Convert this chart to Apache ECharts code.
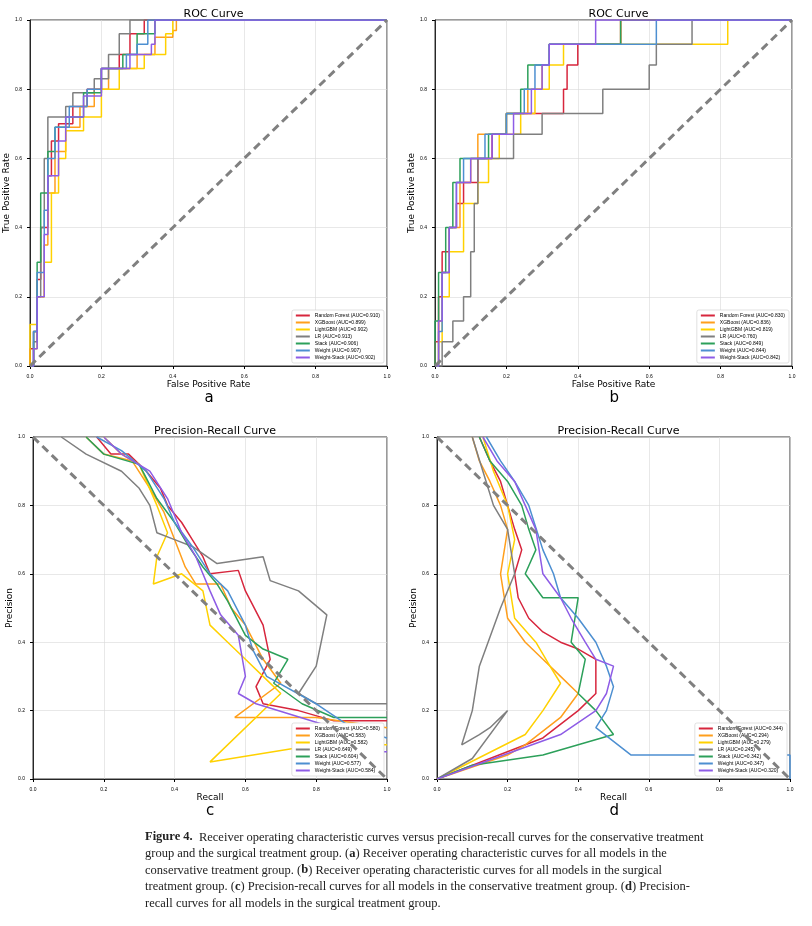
<!DOCTYPE html>
<html><head><meta charset="utf-8">
<script src="https://cdn.jsdelivr.net/npm/echarts@6/dist/echarts.min.js"></script>
<style>html,body{margin:0;background:#fff}#c{width:812px;height:926px}</style>
</head><body><div id="c"></div>
<script>
const models = ['Random Forest', 'XGBoost', 'LightGBM', 'LR', 'Stack', 'Weight', 'Weight-Stack'];
const colors = ['#d7263d', '#ff9f1c', '#ffd100', '#7f7f7f', '#2ca05a', '#4d8fd1', '#8e5ce6'];
const aucA = ['0.910', '0.899', '0.902', '0.913', '0.906', '0.907', '0.902'];
const aucB = ['0.830', '0.836', '0.819', '0.760', '0.849', '0.844', '0.842'];
const aucC = ['0.580', '0.583', '0.582', '0.649', '0.604', '0.577', '0.584'];
const aucD = ['0.344', '0.294', '0.279', '0.245', '0.342', '0.347', '0.320'];

// ROC a (fpr, tpr)
const rocA = [
  [[0,0],[0,0.05],[0.01,0.1],[0.02,0.25],[0.03,0.4],[0.05,0.55],[0.06,0.65],[0.08,0.7],[0.12,0.75],[0.16,0.8],[0.2,0.86],[0.25,0.9],[0.28,0.96],[0.32,1],[1,1]],
  [[0,0],[0.01,0.05],[0.02,0.2],[0.04,0.35],[0.05,0.5],[0.07,0.62],[0.1,0.69],[0.14,0.75],[0.18,0.8],[0.22,0.86],[0.3,0.9],[0.35,0.95],[0.4,0.97],[0.41,1],[1,1]],
  [[0,0],[0,0.12],[0.02,0.2],[0.04,0.3],[0.06,0.5],[0.08,0.6],[0.1,0.68],[0.15,0.72],[0.2,0.8],[0.25,0.86],[0.32,0.9],[0.38,0.96],[0.4,1],[1,1]],
  [[0,0],[0.01,0.07],[0.02,0.2],[0.03,0.4],[0.04,0.6],[0.05,0.72],[0.1,0.75],[0.12,0.79],[0.18,0.83],[0.22,0.9],[0.25,0.96],[0.28,1],[1,1]],
  [[0,0],[0.01,0.1],[0.02,0.3],[0.03,0.5],[0.05,0.62],[0.07,0.69],[0.1,0.72],[0.15,0.79],[0.2,0.86],[0.26,0.9],[0.3,0.96],[0.35,1],[1,1]],
  [[0,0],[0.01,0.1],[0.02,0.27],[0.04,0.45],[0.05,0.6],[0.07,0.69],[0.11,0.75],[0.16,0.8],[0.2,0.86],[0.27,0.9],[0.3,0.93],[0.33,1],[1,1]],
  [[0,0],[0.01,0.05],[0.02,0.2],[0.04,0.38],[0.05,0.55],[0.08,0.65],[0.1,0.72],[0.15,0.78],[0.2,0.86],[0.28,0.9],[0.34,0.93],[0.35,1],[1,1]]
];
// ROC b
const rocB = [
  [[0,0],[0,0.07],[0.01,0.2],[0.02,0.33],[0.04,0.4],[0.06,0.47],[0.08,0.53],[0.12,0.6],[0.16,0.67],[0.2,0.73],[0.3,0.73],[0.36,0.8],[0.37,0.87],[0.4,0.93],[0.52,1],[1,1]],
  [[0,0],[0.01,0.13],[0.02,0.27],[0.04,0.4],[0.07,0.53],[0.1,0.6],[0.12,0.67],[0.2,0.73],[0.26,0.8],[0.3,0.87],[0.32,0.93],[0.52,1],[1,1]],
  [[0,0],[0.01,0.07],[0.02,0.2],[0.04,0.33],[0.08,0.47],[0.12,0.53],[0.15,0.6],[0.18,0.67],[0.24,0.73],[0.28,0.8],[0.32,0.87],[0.36,0.93],[0.65,0.93],[0.82,1],[1,1]],
  [[0,0],[0.02,0.07],[0.05,0.13],[0.08,0.2],[0.1,0.33],[0.11,0.47],[0.12,0.6],[0.22,0.67],[0.3,0.73],[0.46,0.73],[0.47,0.8],[0.6,0.87],[0.62,0.93],[0.72,1],[1,1]],
  [[0,0],[0,0.13],[0.01,0.27],[0.03,0.4],[0.05,0.53],[0.07,0.6],[0.15,0.67],[0.2,0.73],[0.24,0.8],[0.26,0.87],[0.32,0.93],[0.52,1],[1,1]],
  [[0,0],[0.01,0.1],[0.02,0.27],[0.04,0.4],[0.06,0.53],[0.08,0.6],[0.14,0.67],[0.2,0.73],[0.25,0.8],[0.28,0.87],[0.32,0.93],[0.6,0.93],[0.62,1],[1,1]],
  [[0,0],[0.01,0.13],[0.02,0.27],[0.04,0.4],[0.06,0.53],[0.1,0.6],[0.16,0.67],[0.22,0.73],[0.27,0.8],[0.3,0.87],[0.32,0.93],[0.45,1],[1,1]]
];
// PR c (recall, precision)
const prC = [
  [[0.18,1],[0.22,0.95],[0.27,0.95],[0.32,0.9],[0.36,0.85],[0.38,0.8],[0.42,0.75],[0.45,0.7],[0.48,0.65],[0.5,0.6],[0.58,0.61],[0.6,0.55],[0.65,0.45],[0.67,0.35],[0.63,0.27],[0.65,0.22],[0.75,0.2],[0.85,0.17],[1,0.17]],
  [[0.15,1],[0.2,0.95],[0.28,0.93],[0.33,0.85],[0.37,0.78],[0.4,0.7],[0.43,0.62],[0.46,0.57],[0.53,0.57],[0.56,0.5],[0.6,0.45],[0.65,0.35],[0.7,0.28],[0.57,0.18],[0.8,0.18],[1,0.15]],
  [[0.2,1],[0.25,0.95],[0.3,0.92],[0.35,0.8],[0.38,0.72],[0.35,0.65],[0.34,0.57],[0.42,0.6],[0.48,0.55],[0.5,0.45],[0.55,0.4],[0.6,0.35],[0.65,0.3],[0.7,0.25],[0.5,0.05],[0.8,0.1],[1,0.1]],
  [[0.08,1],[0.15,0.95],[0.25,0.9],[0.3,0.85],[0.33,0.8],[0.35,0.72],[0.4,0.7],[0.45,0.68],[0.52,0.63],[0.65,0.65],[0.67,0.58],[0.75,0.55],[0.83,0.48],[0.8,0.33],[0.75,0.25],[0.8,0.22],[1,0.22]],
  [[0.15,1],[0.2,0.95],[0.3,0.92],[0.35,0.82],[0.4,0.75],[0.44,0.68],[0.48,0.62],[0.52,0.57],[0.55,0.52],[0.6,0.42],[0.65,0.38],[0.72,0.35],[0.68,0.28],[0.76,0.22],[0.85,0.18],[1,0.18]],
  [[0.18,1],[0.25,0.96],[0.32,0.9],[0.37,0.82],[0.4,0.75],[0.45,0.68],[0.5,0.6],[0.55,0.55],[0.6,0.45],[0.62,0.38],[0.66,0.3],[0.8,0.22],[0.9,0.15],[1,0.12]],
  [[0.2,1],[0.25,0.95],[0.33,0.9],[0.38,0.82],[0.42,0.72],[0.46,0.65],[0.5,0.55],[0.53,0.48],[0.58,0.42],[0.6,0.3],[0.58,0.25],[0.63,0.22],[0.85,0.15],[0.78,0.08],[1,0.08]]
];
// PR d
const prD = [
  [[0.12,1],[0.15,0.93],[0.18,0.87],[0.2,0.8],[0.22,0.73],[0.24,0.67],[0.22,0.6],[0.23,0.53],[0.26,0.47],[0.3,0.43],[0.35,0.4],[0.4,0.38],[0.45,0.35],[0.45,0.25],[0.4,0.2],[0.3,0.12],[0,0]],
  [[0.1,1],[0.12,0.93],[0.15,0.87],[0.18,0.8],[0.2,0.73],[0.18,0.6],[0.2,0.47],[0.25,0.4],[0.3,0.35],[0.35,0.3],[0.4,0.25],[0.35,0.18],[0.25,0.1],[0.2,0.07],[0,0]],
  [[0.13,1],[0.16,0.9],[0.2,0.8],[0.22,0.7],[0.2,0.6],[0.22,0.47],[0.28,0.4],[0.32,0.33],[0.35,0.28],[0.3,0.2],[0.25,0.13],[0,0]],
  [[0.1,1],[0.13,0.9],[0.16,0.8],[0.2,0.73],[0.22,0.6],[0.18,0.5],[0.12,0.33],[0.1,0.2],[0.07,0.1],[0.12,0.13],[0.15,0.15],[0.2,0.2],[0.1,0.06],[0,0]],
  [[0.12,1],[0.15,0.93],[0.2,0.87],[0.24,0.8],[0.26,0.73],[0.28,0.67],[0.25,0.6],[0.3,0.53],[0.4,0.53],[0.38,0.4],[0.42,0.35],[0.4,0.25],[0.45,0.2],[0.5,0.13],[0.3,0.07],[0.1,0.04],[0,0]],
  [[0.14,1],[0.18,0.93],[0.22,0.87],[0.26,0.8],[0.3,0.67],[0.33,0.6],[0.35,0.53],[0.4,0.47],[0.45,0.4],[0.48,0.33],[0.5,0.27],[0.48,0.2],[0.45,0.15],[0.55,0.07],[1,0.07],[1,0]],
  [[0.13,1],[0.17,0.93],[0.22,0.87],[0.25,0.8],[0.28,0.73],[0.3,0.6],[0.35,0.53],[0.38,0.47],[0.42,0.4],[0.45,0.35],[0.5,0.33],[0.48,0.25],[0.45,0.2],[0.35,0.13],[0,0]]
];
const diagROC = [[0,0],[1,1]];
const diagPR = [[0,1],[1,0]];

const panels = [
  { title: 'ROC Curve', xName: 'False Positive Rate', yName: 'True Positive Rate', data: rocA, auc: aucA, diag: diagROC, step: 'end', grid: { left: 30, top: 20, width: 357, height: 346 }, tag: 'a' },
  { title: 'ROC Curve', xName: 'False Positive Rate', yName: 'True Positive Rate', data: rocB, auc: aucB, diag: diagROC, step: 'end', grid: { left: 435, top: 20, width: 357, height: 346 }, tag: 'b' },
  { title: 'Precision-Recall Curve', xName: 'Recall', yName: 'Precision', data: prC, auc: aucC, diag: diagPR, step: false, grid: { left: 33, top: 437, width: 354, height: 342 }, tag: 'c' },
  { title: 'Precision-Recall Curve', xName: 'Recall', yName: 'Precision', data: prD, auc: aucD, diag: diagPR, step: false, grid: { left: 437, top: 437, width: 353, height: 342 }, tag: 'd' }
];

const grid = [], xAxis = [], yAxis = [], series = [], legend = [], title = [], graphic = [];
const axisBase = (name, gap) => ({
  type: 'value', min: 0, max: 1, interval: 0.2, name: name, nameLocation: 'middle', nameGap: gap,
  nameTextStyle: { fontSize: 9, color: '#000', fontFamily: 'DejaVu Sans' },
  axisLine: { show: true, lineStyle: { color: '#000', width: 0.8 } },
  axisTick: { show: true, length: 3, lineStyle: { color: '#000' } },
  axisLabel: { fontSize: 5, color: '#000', formatter: v => v.toFixed(1) },
  splitLine: { show: true, lineStyle: { color: '#d8d8d8', width: 0.6 } }
});
panels.forEach((p, i) => {
  grid.push(Object.assign({ show: true, borderColor: '#000', borderWidth: 0.8 }, p.grid));
  xAxis.push(Object.assign(axisBase(p.xName, 10), { gridIndex: i }));
  yAxis.push(Object.assign(axisBase(p.yName, 16), { gridIndex: i }));
  title.push({ text: p.title, left: p.grid.left + p.grid.width / 2, top: p.grid.top - 16, textAlign: 'center',
    textStyle: { fontSize: 11, fontWeight: 'normal', color: '#000', fontFamily: 'DejaVu Sans' } });
  graphic.push({ type: 'text', left: p.grid.left + p.grid.width / 2 - 4, top: p.grid.top + p.grid.height + 25,
    style: { text: p.tag, fontSize: 15, fill: '#000', fontFamily: 'DejaVu Sans' } });
  const names = [];
  p.data.forEach((d, k) => {
    const nm = models[k] + ' (AUC=' + p.auc[k] + ')';
    names.push(nm);
    series.push({ type: 'line', name: nm, xAxisIndex: i, yAxisIndex: i, data: d, step: p.step, symbol: 'none',
      lineStyle: { color: colors[k], width: 1.5 }, itemStyle: { color: colors[k] }, z: 3 });
  });
  series.push({ type: 'line', xAxisIndex: i, yAxisIndex: i, data: p.diag, symbol: 'none', silent: true,
    lineStyle: { color: '#808080', width: 3, type: [8, 5] }, z: 4 });
  legend.push({ data: names, orient: 'vertical', right: 812 - (p.grid.left + p.grid.width) + 3,
    bottom: 926 - (p.grid.top + p.grid.height) + 3, itemWidth: 14, itemHeight: 2, itemGap: 2,
    padding: [3, 4], backgroundColor: '#fff', borderColor: '#ccc', borderWidth: 0.6, borderRadius: 2,
    icon: 'rect', textStyle: { fontSize: 5, color: '#000' } });
});

const caption = [
  '{b|Figure 4.}  Receiver operating characteristic curves versus precision-recall curves for the conservative treatment',
  'group and the surgical treatment group. ({b|a}) Receiver operating characteristic curves for all models in the',
  'conservative treatment group. ({b|b}) Receiver operating characteristic curves for all models in the surgical',
  'treatment group. ({b|c}) Precision-recall curves for all models in the conservative treatment group. ({b|d}) Precision-',
  'recall curves for all models in the surgical treatment group.'
];
graphic.push({ type: 'text', left: 145, top: 829,
  style: { text: caption.join('\n'), fontSize: 12.5, lineHeight: 16.5, fill: '#222', fontFamily: 'Liberation Serif',
    rich: { b: { fontWeight: 'bold', fontSize: 12.5, fontFamily: 'Liberation Serif', fill: '#222' } } } });

const chart = echarts.init(document.getElementById('c'));
chart.setOption({ animation: false, title, grid, xAxis, yAxis, series, legend, graphic });
</script></body></html>
